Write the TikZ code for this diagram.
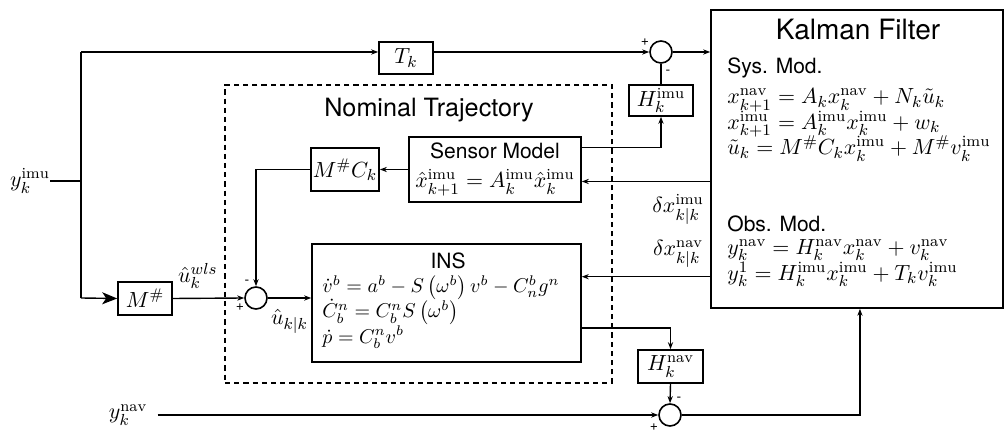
\documentclass[tikz,border=0pt]{standalone}
\usepackage{amsmath,amssymb}
\usepackage{fontspec}
\setsansfont{TeX Gyre Heros}
\usepackage{tikz}
\usetikzlibrary{arrows.meta,positioning,calc}
\newcommand{\eqlines}[2]{\fontsize{#1}{#2}\selectfont\lineskiplimit=-100pt\relax}
\tikzset{
  blk/.style={rectangle,draw,line width=0.8pt,inner sep=1pt},
  sumnode/.style={circle,draw,line width=0.8pt,minimum size=11pt,inner sep=0pt},
  txt/.style={font=\sffamily\fontsize{10.5}{12}\selectfont,inner sep=0pt},
  sgn/.style={font=\sffamily\fontsize{7}{8}\selectfont,inner sep=0pt},
  eqs/.style={align=left,inner sep=0pt,font=\eqlines{11.2pt}{12.75pt}},
  ln/.style={line width=0.7pt},
  arr/.style={ln,-{Stealth[length=3.5pt,width=2.6pt]}},
  bigarr/.style={ln,-{Stealth[length=7.5pt,width=6pt,inset=2pt]}}
}

\begin{document}
\begin{tikzpicture}[x=0.5pt,y=-0.5pt,font=\fontsize{11}{14}\selectfont]
  \useasboundingbox (0,0) rectangle (1005,431);

  % Kalman filter block
  \node[blk,minimum width=146pt,minimum height=149pt] (kf) at (857,159) {};
  \node[txt,font=\sffamily\fontsize{14}{16}\selectfont] (kftitle) at (858,30) {Kalman Filter};
  \node[txt,anchor=west] (sysmod) at (727,68) {Sys. Mod.};
  \node[eqs,anchor=west] (syseq) at (727,125)
      {$x_{k+1}^{\mathrm{nav}} = A_k x_k^{\mathrm{nav}} + N_k \tilde{u}_k$\\
       $x_{k+1}^{\mathrm{imu}} = A_k^{\mathrm{imu}} x_k^{\mathrm{imu}} + w_k$\\
       $\tilde{u}_k = M^{\#} C_k x_k^{\mathrm{imu}} + M^{\#} v_k^{\mathrm{imu}}$};
  \node[txt,anchor=west] (obsmod) at (727,224) {Obs. Mod.};
  \node[eqs,font=\eqlines{11.2pt}{13pt},anchor=west] (obseq) at (727,263)
      {$y_k^{\mathrm{nav}} = H_k^{\mathrm{nav}} x_k^{\mathrm{nav}} + v_k^{\mathrm{nav}}$\\
       $y_k^{1} = H_k^{\mathrm{imu}} x_k^{\mathrm{imu}} + T_k v_k^{\mathrm{imu}}$};

  % nominal trajectory
  \node[draw,dashed,dash pattern=on 2.6pt off 2pt,line width=0.8pt,
        minimum width=193.5pt,minimum height=149pt] (nt) at (418.5,234) {};
  \node[txt,font=\sffamily\fontsize{12.6}{14}\selectfont] (nttitle) at (429,110) {Nominal Trajectory};
  \node[blk,minimum width=86pt,minimum height=32.5pt,align=center,
        font=\fontsize{11}{14.5}\selectfont] (SM) at (495,169.5)
      {\sffamily\fontsize{10.5}{14.5}\selectfont Sensor Model\\
       $\hat{x}_{k+1}^{\mathrm{imu}} = A_k^{\mathrm{imu}} \hat{x}_k^{\mathrm{imu}}$};
  \node[blk,minimum width=33pt,minimum height=21.5pt] (MC) at (345,169.5) {$M^{\#}C_k$};
  \node[blk,minimum width=134.5pt,minimum height=59pt] (INS) at (446.5,303) {};
  \node[txt] (institle) at (448,261) {INS};
  \node[eqs,font=\eqlines{10pt}{12.7pt},anchor=west] (inseq) at (322,312)
      {$\dot{v}^b = a^b - S\left(\omega^b\right) v^b - C_n^b g^n$\\
       $\dot{C}_b^n = C_b^n S\left(\omega^b\right)$\\
       $\dot{p} = C_b^n v^b$};
  \node[sumnode] (s2) at (256,298) {};

  % outer blocks
  \node[blk,minimum width=27pt,minimum height=16pt] (Tk) at (406,58) {$T_k$};
  \node[blk,minimum width=27pt,minimum height=16.5pt] (Mh) at (145,298.5) {$M^{\#}$};
  \node[blk,minimum width=32pt,minimum height=15.5pt] (Himu) at (661,100.5) {$H_k^{\mathrm{imu}}$};
  \node[blk,minimum width=32.5pt,minimum height=16.5pt] (Hnav) at (670.5,366.5) {$H_k^{\mathrm{nav}}$};
  \node[sumnode] (s1) at (661,52) {};
  \node[sumnode] (s3) at (670,415) {};

  \node[inner sep=0pt] (yimu) at (30,181) {$y_k^{\mathrm{imu}}$};
  \node[inner sep=0pt] (ynav) at (128,415) {$y_k^{\mathrm{nav}}$};

  % signs
  \node[sgn] (p1) at (645,42) {+};
  \node[sgn] (m1) at (668,72) {-};
  \node[sgn] (m2) at (247,282) {-};
  \node[sgn] (p2) at (240,307) {+};
  \node[sgn] (m3) at (679,399) {-};
  \node[sgn] (p3) at (654,427) {+};

  % connectors
  \coordinate (split) at (81,181);
  \coordinate (top) at (81,52);
  \coordinate (bot) at (81,298);
  \coordinate (smout) at ($(SM.north east)!0.17!(SM.south east)$);
  \coordinate (smin) at ($(SM.north east)!0.68!(SM.south east)$);
  \coordinate (insin) at ($(INS.north east)!0.28!(INS.south east)$);
  \coordinate (insout) at ($(INS.north east)!0.71!(INS.south east)$);
  \coordinate (kfin) at ($(kf.south west)!0.51!(kf.south east)$);

  \draw[ln] (yimu.east) -- (split);
  \draw[ln] (top) -- (bot);
  \draw[arr] (top) -- (top -| Tk.west);
  \draw[arr] (top -| Tk.east) -- (s1.west);
  \draw[arr] (s1.east) -- (s1.east -| kf.west);
  \draw[ln] (Himu.north) -- (s1.south);
  \draw[arr] (smout) -| (Himu.south);
  \draw[arr] (kf.west |- smin) -- (smin)
      node[pos=0.25,below=3pt] {$\delta x_{k|k}^{\mathrm{imu}}$};
  \draw[arr] (SM.west) -- (MC.east);
  \draw[arr] (MC.west) -| (s2.north);
  \draw[bigarr] (bot) -- (Mh.west);
  \draw[arr] (Mh.east) -- (s2.west) node[pos=0.35,above=1pt] {$\hat{u}_k^{wls}$};
  \draw[arr] (s2.east) -- (s2.east -| INS.west) node[midway,below=2pt] {$\hat{u}_{k|k}$};
  \draw[arr] (kf.west |- insin) -- (insin)
      node[pos=0.25,above=1pt] {$\delta x_{k|k}^{\mathrm{nav}}$};
  \draw[arr] (insout) -| (Hnav.north);
  \draw[arr] (Hnav.south) -- (s3.north);
  \draw[arr,shorten <=5pt] (ynav.east) -- (s3.west);
  \draw[arr] (s3.east) -| (kfin);
\end{tikzpicture}
\end{document}
